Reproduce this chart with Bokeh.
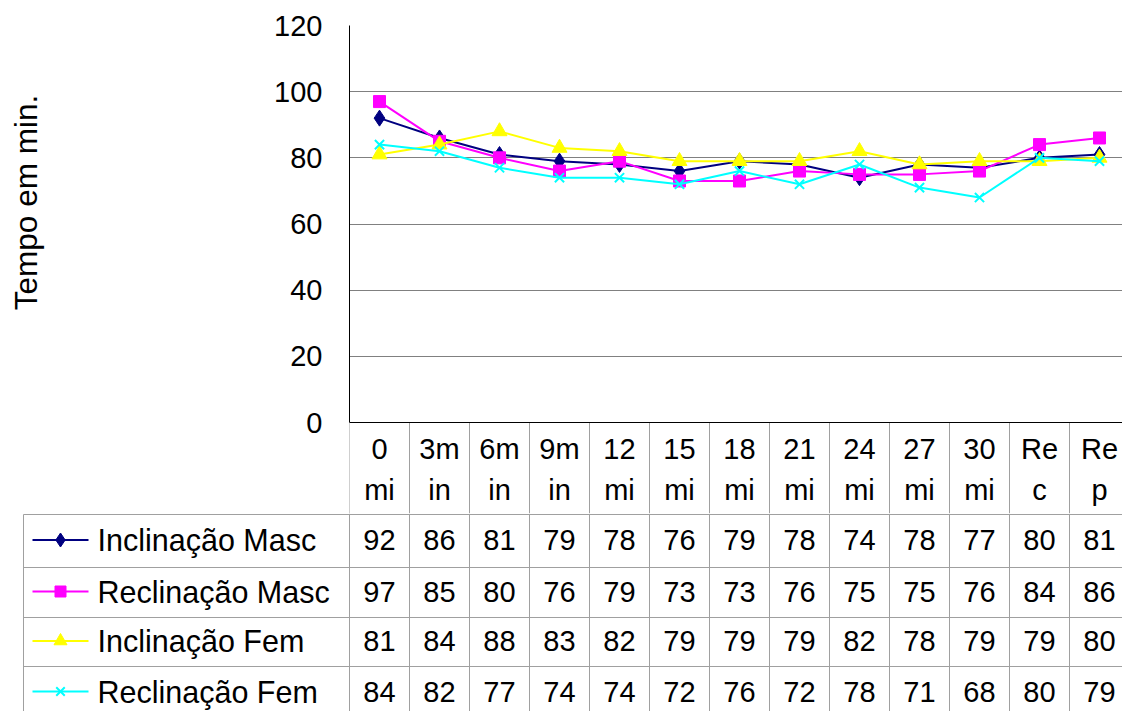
import math
from bokeh.plotting import figure
from bokeh.models import Range1d, FixedTicker
from bokeh.layouts import column, row
from bokeh.core.properties import value
from bokeh.embed import file_html
from bokeh.resources import INLINE

# ---------------- data ----------------
cat_top = ["0", "3m", "6m", "9m", "12", "15", "18", "21", "24", "27", "30", "Re", "Re"]
cat_bottom = ["mi", "in", "in", "in", "mi", "mi", "mi", "mi", "mi", "mi", "mi", "c", "p"]
series_names = ["Inclinação Masc", "Reclinação Masc", "Inclinação Fem", "Reclinação Fem"]
incl_masc = [92, 86, 81, 79, 78, 76, 79, 78, 74, 78, 77, 80, 81]
recl_masc = [97, 85, 80, 76, 79, 73, 73, 76, 75, 75, 76, 84, 86]
incl_fem = [81, 84, 88, 83, 82, 79, 79, 79, 82, 78, 79, 79, 80]
recl_fem = [84, 82, 77, 74, 74, 72, 76, 72, 78, 71, 68, 80, 79]
y_ticks = [0, 20, 40, 60, 80, 100, 120]
y_title = "Tempo em min."

series = [incl_masc, recl_masc, incl_fem, recl_fem]
colors = ["#000080", "#FF00FF", "#FFFF00", "#00FFFF"]
markers = ["diamond", "square", "triangle", "x"]
msizes = [16, 12, 15, 13]
lsizes = [14, 11, 13, 12]

# ---------------- layout constants ----------------
FONT = "Liberation Sans"
FS = "29px"
W = 1122
H = 711
LEFT = 349            # x of the value axis
AXIS_PANEL = 79       # room for the tick labels
TITLE_W = LEFT - AXIS_PANEL
CELL = 60.0
AXIS_Y = 422          # pixel row of the value 0
PLOT_TOP = 25
EXT = 91              # header row of the table lives in the chart figure
TOP_H = AXIS_Y + EXT
TAB_H = H - TOP_H
xr_max = (W - LEFT) / CELL
ppu = (AXIS_Y - PLOT_TOP) / 120.0
ext_units = EXT / ppu
xs = [i + 0.5 for i in range(len(cat_top))]
GRAY = "#a0a0a0"


def px(v):
    return (v - LEFT) / CELL


def below(offset):
    return -offset / ppu


# ---------------- axis title strip ----------------
a = figure(width=TITLE_W, height=TOP_H, x_range=Range1d(0, TITLE_W), y_range=Range1d(TOP_H, 0),
           output_backend="svg", toolbar_location=None, x_axis_location=None, y_axis_location=None,
           min_border_left=0, min_border_right=0, min_border_top=0, min_border_bottom=0)
a.frame_align = False
a.outline_line_color = None
a.grid.visible = False
a.text(x=[25], y=[202], text=[y_title], angle=math.pi / 2, text_align="center", text_baseline="middle",
       text_font=value(FONT), text_font_size="31.5px", text_color="black")

# ---------------- chart ----------------
p = figure(width=W - TITLE_W, height=TOP_H, x_range=Range1d(0, xr_max), y_range=Range1d(-ext_units, 120),
           output_backend="svg", toolbar_location=None, x_axis_location=None,
           min_border_left=AXIS_PANEL, min_border_right=0, min_border_top=PLOT_TOP, min_border_bottom=0)
p.frame_align = False
p.outline_line_color = None
p.background_fill_color = "white"
p.xgrid.visible = False
p.ygrid.grid_line_color = "#808080"
p.ygrid.grid_line_width = 1
p.yaxis.ticker = FixedTicker(ticks=y_ticks)
p.yaxis.bounds = (0, 120)
p.yaxis.axis_line_color = "black"
p.yaxis.major_tick_line_color = None
p.yaxis.minor_tick_line_color = None
p.yaxis.major_tick_out = 0
p.yaxis.major_tick_in = 0
p.yaxis.major_label_standoff = 27
p.yaxis.major_label_text_font = FONT
p.yaxis.major_label_text_font_size = FS
p.yaxis.major_label_text_color = "black"

# header row of the data table (category labels)
kk = list(range(len(cat_top)))
p.segment(x0=kk, y0=[-ext_units] * len(kk), x1=kk, y1=[0] * len(kk), line_color=GRAY, line_width=1)
p.segment(x0=[0], y0=[0], x1=[xr_max], y1=[0], line_color="black", line_width=1)
p.text(x=xs, y=[below(26)] * len(xs), text=cat_top, text_align="center", text_baseline="middle",
       text_font=value(FONT), text_font_size=FS, text_color="black")
p.text(x=xs, y=[below(67)] * len(xs), text=cat_bottom, text_align="center", text_baseline="middle",
       text_font=value(FONT), text_font_size=FS, text_color="black")

for data, c, m, s in zip(series, colors, markers, msizes):
    p.line(xs, data, line_color=c, line_width=2)
    if m == "x":
        p.scatter(xs, data, marker=m, size=s, line_color=c, line_width=2)
    else:
        p.scatter(xs, data, marker=m, size=s, fill_color=c, line_color=c)

# ---------------- data table body ----------------
t = figure(width=W, height=TAB_H, x_range=Range1d(-LEFT / CELL, xr_max), y_range=Range1d(H - AXIS_Y, EXT),
           output_backend="svg", toolbar_location=None, x_axis_location=None, y_axis_location=None,
           min_border_left=0, min_border_right=0, min_border_top=0, min_border_bottom=0)
t.frame_align = False
t.outline_line_color = None
t.grid.visible = False

row_edges = [92, 145, 195, 244, 296]
t.segment(x0=[px(23)] * 4, y0=row_edges[:4], x1=[xr_max] * 4, y1=row_edges[:4], line_color=GRAY, line_width=1)
t.segment(x0=kk, y0=[EXT] * len(kk), x1=kk, y1=[H] * len(kk), line_color=GRAY, line_width=1)
t.segment(x0=[px(23)], y0=[92], x1=[px(23)], y1=[H], line_color=GRAY, line_width=1)

for r, (name, data, c, m, s) in enumerate(zip(series_names, series, colors, markers, lsizes)):
    yc = (row_edges[r] + row_edges[r + 1]) / 2 - 1
    t.text(x=xs, y=[yc] * len(xs), text=[str(v) for v in data], text_align="center",
           text_baseline="middle", text_font=value(FONT), text_font_size=FS, text_color="black")
    t.text(x=[px(97)], y=[yc], text=[name], text_align="left", text_baseline="middle",
           text_font=value(FONT), text_font_size="30.5px", text_color="black")
    t.segment(x0=[px(32)], y0=[yc], x1=[px(88)], y1=[yc], line_color=c, line_width=2)
    if m == "x":
        t.scatter([px(60)], [yc], marker=m, size=s, line_color=c, line_width=2)
    else:
        t.scatter([px(60)], [yc], marker=m, size=s, fill_color=c, line_color=c)

layout = column(row(a, p, spacing=0), t, spacing=0)
open("out.html", "w").write(file_html(layout, INLINE))
